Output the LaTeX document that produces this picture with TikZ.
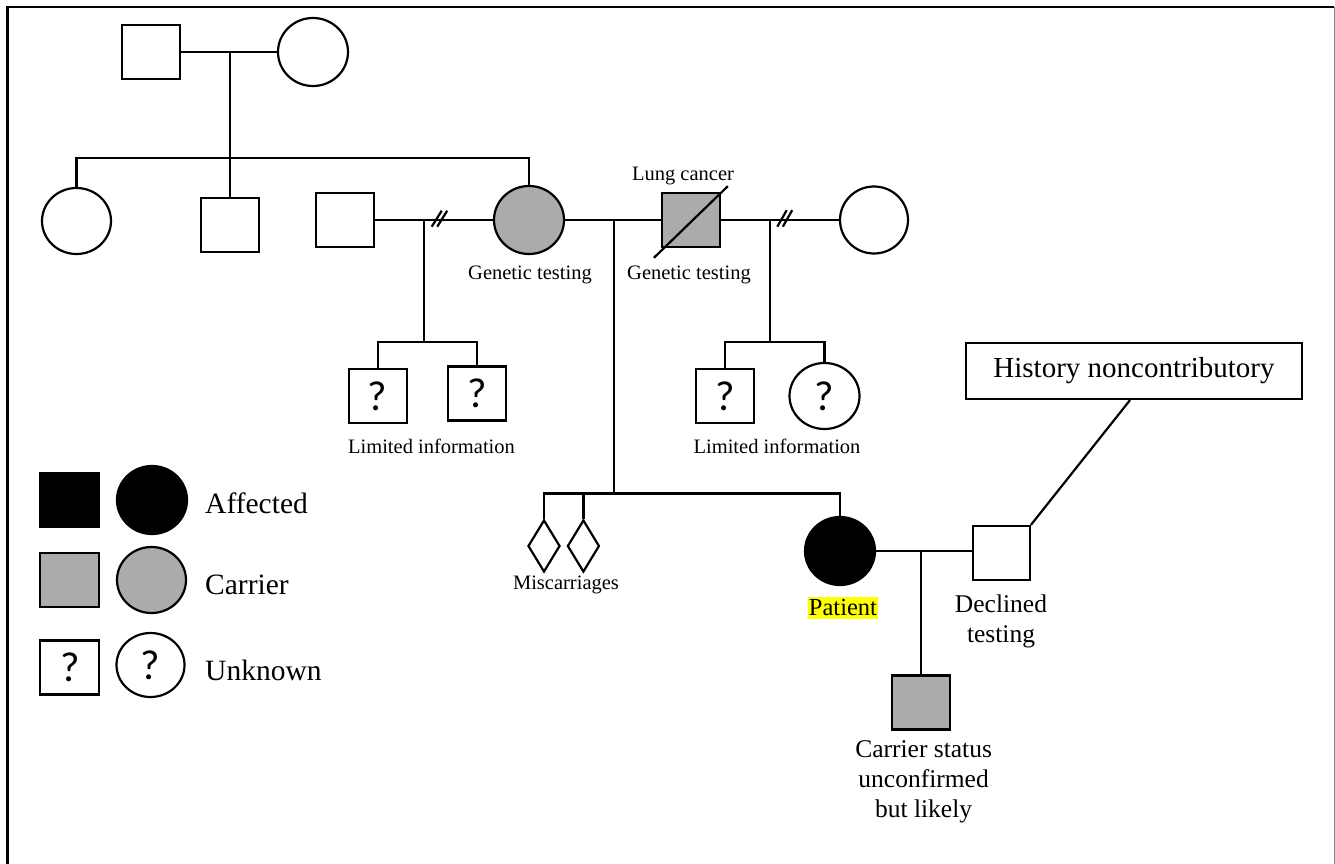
\documentclass[tikz,border=0pt]{standalone}
\usepackage{fontspec}
\setmainfont{Liberation Serif}
\newfontfamily\qfont{Carlito}
\usetikzlibrary{shapes.geometric,calc}
\definecolor{carriergray}{HTML}{ABABAB}
\definecolor{hiyellow}{HTML}{FFFF00}
\tikzset{
  base/.style={draw, line width=2.2pt, inner sep=0pt},
  sq/.style={base, rectangle, minimum width=58pt, minimum height=54pt},
  circ/.style={base, ellipse, minimum width=70pt, minimum height=68pt},
  dia/.style={base, diamond, minimum width=32pt, minimum height=52pt},
  carrier/.style={fill=carriergray},
  affected/.style={fill=black},
  conn/.style={line width=2.2pt},
  small/.style={font=\fontsize{20.5}{24}\selectfont, inner sep=0pt},
  mid/.style={font=\fontsize{25.5}{30}\selectfont, inner sep=0pt, align=center},
  big/.style={font=\fontsize{29.5}{34}\selectfont, inner sep=0pt},
  qm/.style={font=\qfont\fontsize{42}{42}\selectfont}
}
\begin{document}
\begin{tikzpicture}[x=1pt,y=-1pt]
\useasboundingbox (0,0) rectangle (1335,864);
% frame
\draw[line width=2.8pt] (7.5,864) -- (7.5,7) -- (1334,7);
\draw[gray, line width=1pt] (1334,7) -- (1334,864);

% generation I
\node[sq] (gf) at (151,52) {};
\node[circ] (gm) at (313,52) {};
\coordinate (g1) at (230,52);
\coordinate (s1) at (230,158);

% generation II
\node[circ, minimum width=69pt, minimum height=66pt] (aunt) at (76.5,221) {};
\node[sq] (uncle) at (230,225) {};
\node[sq] (h1) at (345,220) {};
\node[circ, carrier] (mom) at (529,220) {};
\node[sq, carrier] (lc) at (691,220) {};
\node[circ, minimum width=68pt, minimum height=67pt] (w2) at (874,220) {};

\draw[conn] (gf) -- (gm);
\draw[conn] (g1) -- (uncle.north);
\draw[conn] (aunt.north) |- (s1) -- (s1 -| mom.north) -- (mom.north);

% marriage 1 (mom + h1)
\coordinate (m1) at (424,220);
\coordinate (s2) at (424,342);
\draw[conn] (h1.east) -- (mom.west);
\draw[conn] (431.7,226.7) -- (441.7,210.7);
\draw[conn] (437.2,226.7) -- (447.2,210.7);
\draw[conn] (m1) -- (s2);

% marriage 2 (mom + lc)
\coordinate (m2) at (614,220);
\coordinate (s3) at (614,493.5);
\draw[conn] (mom.east) -- (lc.west);
\draw[conn] (m2) -- (s3);
\draw[conn] ($(lc.south west)+(-7,9.7)$) -- ($(lc.north east)+(6.7,-5.7)$);

% marriage 3 (lc + w2)
\coordinate (m3) at (770,220);
\coordinate (s4) at (770,342);
\draw[conn] (lc.east) -- (w2.west);
\draw[conn] (777.3,226.7) -- (786.7,210.2);
\draw[conn] (782.8,226.7) -- (792.2,210.2);
\draw[conn] (m3) -- (s4);

% labels gen II
\node[small] (lbllc) at (683,176) {Lung cancer};
\node[small] (gt1) at (530,275) {Genetic testing};
\node[small] (gt2) at (689,275) {Genetic testing};

% children of marriage 1
\node[sq, qm] (c1) at (377.7,396) {?};
\node[sq, qm] (c2) at (476.8,393.5) {?};
\draw[conn] (c1.north) |- (c2.north |- s2) -- (c2.north);
\node[small] (li1) at (431.5,446) {Limited information};

% children of marriage 3
\node[sq, qm] (c3) at (725,396) {?};
\node[circ, qm, minimum width=70pt, minimum height=66pt] (c4) at (824.5,396) {?};
\draw[conn] (c3.north) |- (c4.north |- s4) -- (c4.north);
\node[small] (li2) at (777,446) {Limited information};

% children of marriage 2
\node[dia] (md1) at (544,546) {};
\node[dia] (md2) at (583.4,546) {};
\node[circ, affected] (pat) at (840,551) {};
\draw[conn] (md1.north) |- (pat.north |- s3) -- (pat.north);
\draw[conn] (md2.north) -- (md2.north |- s3);
\node[small] (misc) at (566,585) {Miscarriages};
\node[font=\fontsize{24.5}{28}\selectfont, fill=hiyellow, inner xsep=1pt, inner ysep=2.5pt] (patlbl) at (843,608) {Patient};

% patient marriage
\node[sq, minimum width=57pt] (hus) at (1001.3,553) {};
\coordinate (m4) at (921.3,551);
\draw[conn] (pat.east) -- (pat.east -| hus.west);
\node[sq, carrier, minimum width=58pt] (son) at (921.3,702.5) {};
\draw[conn] (m4) -- (son.north);
\node[mid] (decl) at (1001,621) {Declined\\testing};
\node[mid] (carr) at (923.6,782) {Carrier status\\unconfirmed\\but likely};

% history box
\node[draw, line width=2.2pt, minimum width=336pt, minimum height=56pt, font=\fontsize{29}{34}\selectfont] (hist) at (1134,371) {History noncontributory};
\draw[conn] (hus.north east) -- ($(hist.south)+(-4,0)$);

% legend
\node[sq, affected, minimum width=59pt] (la1) at (69.5,499.7) {};
\node[circ, affected, minimum width=70pt, minimum height=68pt] (la2) at (152,500) {};
\node[big, anchor=west] (lta) at (205,503) {Affected};
\node[sq, carrier, minimum width=59pt] (lb1) at (69.8,579.7) {};
\node[circ, carrier, minimum width=69pt, minimum height=66pt] (lb2) at (151.5,580) {};
\node[big, anchor=west] (ltb) at (205,585) {Carrier};
\node[sq, qm, minimum width=59pt] (lc1) at (69.8,667.5) {?};
\node[circ, qm, minimum width=68pt, minimum height=64pt] (lc2) at (150.5,665) {?};
\node[big, anchor=west] (ltc) at (205,670) {Unknown};
\end{tikzpicture}
\end{document}
